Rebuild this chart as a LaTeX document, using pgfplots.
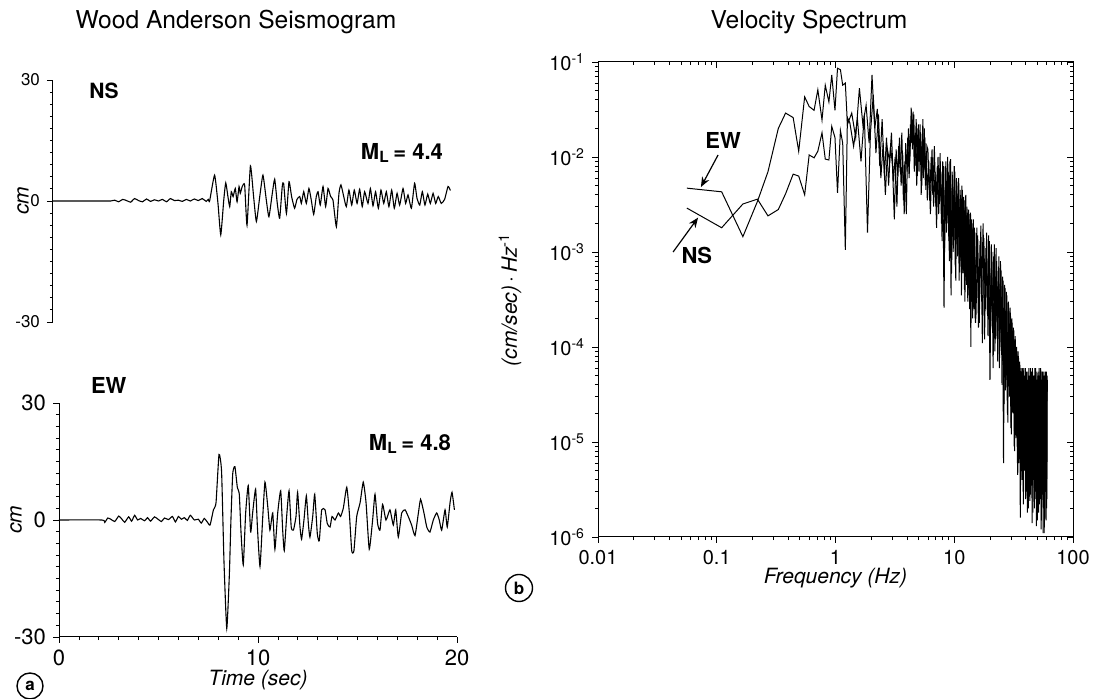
\documentclass[border=0pt]{standalone}
\usepackage{fontspec}
\setmainfont{TeX Gyre Heros}
\usepackage{pgfplots}
\pgfplotsset{compat=1.18}
\usepackage{pgfplotstable}
\usetikzlibrary{arrows.meta}

% ---------- Wood Anderson seismogram, NS component (t in s, cm) ----------
\pgfplotstableread{
t v
0 0
2.5 0
2.9 0
3.1 0.2
3.3 -0.2
3.5 0.4
3.7 0.1
3.9 -0.3
4.1 0.6
4.3 0.1
4.5 -0.2
4.7 0.5
4.9 -0.1
5.1 0.3
5.3 0
5.5 0.4
5.7 -0.2
5.9 0.6
6.1 0.1
6.3 0.2
6.5 -0.1
6.7 0.4
6.9 0
7.1 0.5
7.3 0.1
7.5 0.6
7.7 -0.1
7.8 0.4
7.87 0
8.12 6.4
8.29 -0.6
8.43 -8.4
8.58 0.2
8.68 4.5
8.79 1.1
8.88 -1.4
8.96 2.3
9.05 1.1
9.16 3.1
9.25 -0.2
9.35 3.6
9.41 1.9
9.51 3.6
9.63 4.0
9.75 -6.0
9.92 8.7
10.08 1.1
10.22 -5.1
10.39 1.1
10.55 6.4
10.72 0.2
10.85 -3.9
11.02 1.9
11.14 5.4
11.27 -0.6
11.39 -4.3
11.52 3.6
11.59 4.4
11.73 -3.1
11.86 4.8
11.99 1.1
12.14 -1.8
12.26 0.4
12.40 1.1
12.48 -0.6
12.60 2.3
12.73 -0.6
12.86 3.1
12.98 0.2
13.10 -3.3
13.23 1.1
13.32 2.3
13.43 -1.0
13.57 3.6
13.70 -1.4
13.82 3.1
13.95 1.1
14.07 0.2
14.24 -6.4
14.37 1.9
14.47 4.0
14.61 1.1
14.74 -1.4
14.87 2.7
15.01 -1.0
15.14 2.7
15.28 -0.6
15.41 2.9
15.54 -1.4
15.66 2.3
15.83 -0.6
15.95 3.1
16.08 -1.2
16.21 2.3
16.35 -1.8
16.48 2.7
16.62 -0.6
16.75 2.3
16.88 -1.4
17.02 2.7
17.15 -1.8
17.29 1.9
17.42 -1.0
17.59 3.1
17.72 -0.6
17.84 1.5
18.01 -1.8
18.17 4.4
18.29 0.7
18.43 -1.0
18.56 2.3
18.69 -1.0
18.83 1.7
18.96 -0.6
19.10 1.9
19.23 -0.6
19.36 1.1
19.51 -0.6
19.68 0.4
19.85 3.6
19.97 2.6
}\nsdata

% ---------- Wood Anderson seismogram, EW component ----------
\pgfplotstableread{
t v
0 0
2.15 0
2.3 -0.6
2.45 0.5
2.6 0.2
2.8 -0.4
3.0 1.0
3.15 0.3
3.3 -0.6
3.5 0.8
3.65 -0.3
3.8 1.2
3.95 0
4.1 0.4
4.3 -0.2
4.45 0.6
4.6 -0.3
4.8 0.8
5.0 0.1
5.15 -0.4
5.3 0.5
5.5 0.1
5.7 0.9
5.85 -0.5
6.0 0.9
6.15 0.2
6.3 0.6
6.45 -0.1
6.6 1.2
6.8 0
7.0 0.2
7.15 -0.8
7.3 0.4
7.45 -0.5
7.59 -1.3
7.76 2.6
7.89 4.4
8.04 16.8
8.17 12.4
8.29 -10.6
8.43 -27.8
8.56 -14.1
8.64 0
8.73 11.9
8.84 13.7
8.96 8.4
9.06 6.6
9.15 -3.5
9.26 -11.5
9.38 1.8
9.51 8.8
9.63 -3.1
9.73 1.8
9.88 7.9
9.97 -1.8
10.10 -11.9
10.23 0
10.35 9.7
10.49 3.5
10.60 -2.6
10.74 1.8
10.85 -7.5
10.99 1.8
11.14 7.5
11.24 -2.6
11.32 -7.9
11.44 0.9
11.56 7.5
11.67 -1.8
11.78 -2.6
11.91 0.9
11.99 7.1
12.11 -1.8
12.19 -4.9
12.31 0
12.43 6.2
12.53 -0.9
12.61 -4.4
12.75 0.9
12.85 6.6
12.98 -3.5
13.08 -5.3
13.20 2.6
13.37 2.6
13.48 -0.9
13.62 -1.8
13.72 0.9
13.87 0
14.04 1.8
14.15 0.9
14.29 3.1
14.46 8.4
14.59 1.8
14.71 -7.9
14.82 -7.9
14.96 0.9
15.13 4.4
15.29 9.7
15.43 4.4
15.59 -7.5
15.76 0
15.88 6.6
16.01 -0.9
16.13 -2.6
16.26 4.0
16.43 0
16.63 2.6
16.80 -1.3
16.92 2.6
17.05 -4.4
17.22 1.8
17.39 2.6
17.55 0.9
17.72 -1.3
17.89 -4.0
18.06 1.8
18.17 5.3
18.34 1.8
18.48 -1.8
18.64 -3.1
18.81 0
18.98 1.8
19.11 0
19.23 -2.6
19.40 2.6
19.51 -1.8
19.65 4.4
19.75 7.1
19.87 2.6
}\ewdata

% ---------- Velocity spectrum, EW (f in Hz, (cm/s)/Hz) ----------
\pgfplotstableread{
f v
0.056 4.7e-3
0.11 4.3e-3
0.166 1.45e-3
0.22 3.4e-3
0.27 7.0e-3
0.33 2.0e-2
0.38 2.9e-2
0.44 2.6e-2
0.49 1.15e-2
0.55 4.3e-2
0.60 3.4e-2
0.66 3.1e-2
0.71 5.1e-2
0.77 2.45e-2
0.82 5.7e-2
0.88 3.8e-2
0.93 7.3e-2
0.99 3.1e-2
1.04 8.6e-2
1.10 8.3e-2
1.15 5.7e-2
1.21 6.0e-2
1.26 2.2e-2
1.37 2.9e-2
1.48 1.6e-2
1.59 5.3e-2
1.70 2.2e-2
1.81 3.5e-2
1.92 1.4e-2
2.03 7.3e-2
2.14 2.0e-2
2.25 3.2e-2
2.36 8e-3
2.47 2.5e-2
2.58 6.3e-3
2.69 1.6e-2
2.80 5e-3
2.91 1.3e-2
3.02 8e-3
3.13 2.2e-3
3.24 1.2e-2
3.35 6.3e-3
3.46 1.6e-2
3.57 5e-3
3.68 1.1e-2
3.79 2.5e-3
3.90 1.4e-2
4.01 7e-3
4.12 2e-2
4.23 9e-3
4.34 3.3e-2
4.45 1.2e-2
4.56 2.8e-2
4.67 8e-3
4.78 2.5e-2
4.89 6.3e-3
5.00 2.2e-2
5.11 1e-2
5.22 1.8e-2
5.33 5e-3
5.44 2.5e-2
5.55 7e-3
5.66 1.6e-2
5.77 4.5e-3
5.88 1.3e-2
6.0 1.2e-2
6.2 3.5e-3
6.4 1.0e-2
6.6 4e-3
6.8 1.3e-2
7.0 3e-3
7.2 8e-3
7.4 2.5e-3
7.6 1.1e-2
7.8 2e-3
8.0 9e-3
8.2 2.6e-4
8.4 8e-3
8.6 1.6e-3
8.8 1e-2
9.0 1.3e-3
9.2 9e-3
9.4 3.5e-4
9.6 7e-3
9.8 1.0e-3
10.0 8e-3
10.2 7e-4
10.4 6e-3
10.6 1.2e-3
10.8 5.5e-3
11.0 5e-4
11.2 4.5e-3
11.4 8e-4
11.6 5e-3
11.8 6e-4
12.0 3.8e-3
12.2 4e-4
12.4 3.5e-3
12.6 5e-4
12.8 3e-3
13.0 3e-4
13.2 2.8e-3
13.4 4e-4
13.6 2.5e-3
13.8 1e-4
14.0 2.2e-3
14.2 3e-4
14.4 2e-3
14.6 2.5e-4
14.8 1.8e-3
15.0 2e-4
15.5 1.8e-3
16.0 1.6e-4
16.5 1.3e-3
17.0 3e-4
17.5 2e-3
18.0 1.2e-4
18.5 1.1e-3
19.0 2.2e-4
19.5 1.5e-3
20.0 4.5e-5
20.5 1.2e-3
21.0 1.5e-4
21.5 9e-4
22.0 9e-5
22.5 1.1e-3
23.0 1.3e-4
23.5 7e-4
24.0 6e-5
24.5 8e-4
25.0 9e-5
25.5 5.5e-4
26.0 6e-6
26.5 4.5e-4
27.0 3.5e-5
27.5 3.8e-4
28.0 2e-5
28.5 3e-4
29.0 4e-5
29.5 2.6e-4
30.0 1.4e-5
30.5 2e-4
31.0 2.5e-5
31.5 1.6e-4
32.0 9e-6
32.5 1.3e-4
33.0 1.5e-5
33.5 1e-4
34.0 6e-6
34.5 9e-5
35.0 1e-5
35.5 7e-5
36.0 1.6e-6
36.5 6e-5
37.0 5e-6
37.5 5.5e-5
38.0 3e-6
38.5 6e-5
39.0 7e-6
39.5 5e-5
40.0 2.5e-6
40.5 5.5e-5
41.0 4e-6
41.5 4e-5
42.0 2e-6
42.5 6e-5
43.0 6e-6
43.5 4.5e-5
44.0 2.8e-6
44.5 5.5e-5
45.0 3.5e-6
45.5 6e-5
46.0 1.8e-6
46.5 4e-5
47.0 5e-6
47.5 5e-5
48.0 2.5e-6
48.5 6e-5
49.0 3e-6
49.5 4.5e-5
50.0 1.5e-6
50.5 5e-5
51.0 4e-6
51.5 5.5e-5
52.0 2.2e-6
52.5 4e-5
53.0 3.2e-6
53.5 6e-5
54.0 1.2e-6
54.5 4.5e-5
55.0 2.8e-6
55.5 5.5e-5
56.0 1.1e-6
56.5 5e-5
57.0 3.5e-6
57.5 4e-5
58.0 1.6e-6
58.5 5.5e-5
59.0 3e-6
59.5 4.5e-5
60.0 2e-6
60.5 5e-5
}\ewspec

% ---------- Velocity spectrum, NS ----------
\pgfplotstableread{
f v
0.056 2.9e-3
0.11 1.8e-3
0.166 3.2e-3
0.22 3.6e-3
0.27 2.4e-3
0.33 2.8e-3
0.38 4.1e-3
0.44 6.6e-3
0.49 6.3e-3
0.55 4.0e-3
0.60 1.05e-2
0.66 9.8e-3
0.71 1.15e-2
0.77 1.8e-2
0.82 9.5e-3
0.88 9.3e-3
0.93 2.1e-2
0.99 1.6e-2
1.04 4.2e-3
1.10 1.9e-2
1.15 1.4e-2
1.21 1.05e-3
1.26 2.6e-2
1.32 2.3e-2
1.42 1.3e-2
1.53 2.5e-2
1.64 9e-3
1.75 2.8e-2
1.86 1.6e-3
1.97 1.8e-2
2.08 4.5e-2
2.19 1.1e-2
2.30 2.8e-2
2.41 6e-3
2.52 1.4e-2
2.63 4e-3
2.74 1.2e-2
2.85 9e-3
2.96 1.8e-2
3.07 5.5e-3
3.18 1e-2
3.29 3e-3
3.40 1.3e-2
3.51 7e-3
3.62 1.8e-2
3.73 3.5e-3
3.84 9e-3
3.95 2.5e-3
4.06 1.6e-2
4.17 6e-3
4.28 2.2e-2
4.39 1.4e-2
4.50 3e-2
4.61 7e-3
4.72 1.8e-2
4.83 5e-3
4.94 2e-2
5.05 7e-3
5.16 2.2e-2
5.27 4e-3
5.38 1.5e-2
5.49 6e-3
5.60 2e-2
5.71 5e-3
5.82 1.1e-2
5.93 3.5e-3
6.1 9e-3
6.3 2.5e-3
6.5 1.2e-2
6.7 3e-3
6.9 7e-3
7.1 1.8e-3
7.3 1e-2
7.5 3.2e-3
7.7 7e-3
7.9 1.3e-3
8.1 8e-3
8.3 1.1e-3
8.5 9e-3
8.7 2e-3
8.9 7e-3
9.1 8e-4
9.3 9.5e-3
9.5 6e-4
9.7 6.5e-3
9.9 1.3e-3
10.1 7e-3
10.3 5e-4
10.5 5e-3
10.7 9e-4
10.9 6e-3
11.1 7e-4
11.3 4e-3
11.5 3.5e-4
11.7 4.5e-3
11.9 6e-4
12.1 3.5e-3
12.3 3e-4
12.5 4e-3
12.7 4.5e-4
12.9 2.6e-3
13.1 3.5e-4
13.3 2.2e-3
13.5 2.5e-4
13.7 2.6e-3
13.9 3e-4
14.1 1.8e-3
14.3 2e-4
14.5 2.2e-3
14.7 2.8e-4
14.9 1.6e-3
15.1 1.8e-4
15.25 2.2e-4
15.75 1.5e-3
16.25 1.8e-4
16.75 1.9e-3
17.25 1.1e-4
17.75 1.4e-3
18.25 2.5e-4
18.75 1.6e-3
19.25 1.3e-4
19.75 1.3e-3
20.25 1.6e-4
20.75 1e-3
21.25 6e-5
21.75 1.2e-3
22.25 1.2e-4
22.75 8e-4
23.25 7e-5
23.75 9e-4
24.25 1e-4
24.75 6.5e-4
25.25 4e-5
25.75 5e-4
26.25 2.5e-5
26.75 4.2e-4
27.25 4.5e-5
27.75 3.5e-4
28.25 1.6e-5
28.75 2.8e-4
29.25 3e-5
29.75 2.3e-4
30.25 1.2e-5
30.75 1.8e-4
31.25 2e-5
31.75 1.5e-4
32.25 8e-6
32.75 1.2e-4
33.25 1.1e-5
33.75 9e-5
34.25 4.5e-6
34.75 8e-5
35.25 6e-6
35.75 6.5e-5
36.25 3.5e-6
36.75 5.5e-5
37.25 4e-6
37.75 6e-5
38.25 2.2e-6
38.75 4.5e-5
39.25 5e-6
39.75 6e-5
40.25 3e-6
40.75 4.5e-5
41.25 1.8e-6
41.75 5.5e-5
42.25 4.5e-6
42.75 5e-5
43.25 2.4e-6
43.75 6e-5
44.25 3.5e-6
44.75 4e-5
45.25 1.4e-6
45.75 5.5e-5
46.25 4e-6
46.75 5e-5
47.25 2e-6
47.75 6e-5
48.25 3.8e-6
48.75 4.5e-5
49.25 1.3e-6
49.75 5.5e-5
50.25 3e-6
50.75 4e-5
51.25 1.8e-6
51.75 6e-5
52.25 4e-6
52.75 5e-5
53.25 2.5e-6
53.75 4.5e-5
54.25 1.5e-6
54.75 5.5e-5
55.25 3.5e-6
55.75 4.5e-5
56.25 2e-6
56.75 5.5e-5
57.25 1.1e-6
57.75 5e-5
58.25 3e-6
58.75 4e-5
59.25 1.5e-6
59.75 5.5e-5
60.25 2.5e-6
60.75 4.5e-5
}\nsspec

\pgfplotsset{
  seis/.style={
    scale only axis, width=199pt, clip=false, anchor=south west,
    xmin=0, xmax=20, ymin=-30, ymax=30,
    ytick={-30,0,30}, yticklabels={-30,0,30}, minor y tick num=9,
    tick align=outside, major tick length=3pt, minor tick length=1.6pt,
    tick style={black, line width=0.4pt},
    axis line style={line width=0.5pt},
    ylabel={\itshape cm},
    label style={font=\fontsize{10.5}{12}\selectfont},
  },
  spec/.style={
    scale only axis, width=237.5pt, height=237.5pt, clip=false, anchor=south west,
    xmin=0.01, xmax=100, ymin=1e-6, ymax=1e-1,
    xtick={0.01,0.1,1,10,100},
    ytick={1e-6,1e-5,1e-4,1e-3,1e-2,1e-1},
    minor xtick={0.02,0.03,0.04,0.05,0.06,0.07,0.08,0.09,0.2,0.3,0.4,0.5,0.6,0.7,0.8,0.9,2,3,4,5,6,7,8,9,20,30,40,50,60,70,80,90},
    minor ytick={2e-6,3e-6,4e-6,5e-6,6e-6,7e-6,8e-6,9e-6,2e-5,3e-5,4e-5,5e-5,6e-5,7e-5,8e-5,9e-5,2e-4,3e-4,4e-4,5e-4,6e-4,7e-4,8e-4,9e-4,2e-3,3e-3,4e-3,5e-3,6e-3,7e-3,8e-3,9e-3,2e-2,3e-2,4e-2,5e-2,6e-2,7e-2,8e-2,9e-2},
    major tick length=3pt, minor tick length=1.6pt,
    tick style={black, line width=0.4pt},
    axis line style={line width=0.5pt},
    tick label style={font=\fontsize{10}{12}\selectfont},
    label style={font=\fontsize{10.5}{12}\selectfont},
  },
}

\begin{document}
\begin{tikzpicture}
\path[use as bounding box] (0pt,0pt) rectangle (549.5pt,349.5pt);

% titles
\node[font=\fontsize{12.3}{14}\selectfont] at (118pt,338.5pt) {Wood Anderson Seismogram};
\node[font=\fontsize{12.3}{14}\selectfont] at (404.5pt,338.5pt) {Velocity Spectrum};

% NS seismogram
\begin{axis}[seis, at={(26.5pt,188.5pt)}, height=121pt,
  axis y line*=left, hide x axis,
  tick label style={font=\fontsize{8.5}{10}\selectfont},
  ylabel style={at={(axis description cs:0,0.5)}, anchor=center, rotate=0, yshift=15pt}]
  \addplot[black, line width=0.55pt, smooth, tension=0.3] table[x=t,y=v] {\nsdata};
  \node[font=\bfseries\fontsize{10.5}{12}\selectfont] at (axis cs:2.56,27.3) {NS};
  \node[anchor=east, font=\bfseries\fontsize{11}{13}\selectfont] at (axis cs:19.95,11.9) {M\textsubscript{L}\,= 4.4};
\end{axis}

% EW seismogram
\begin{axis}[seis, at={(29.5pt,31pt)}, height=117pt,
  axis y line*=left, axis x line*=bottom,
  tick label style={font=\fontsize{11}{13}\selectfont},
  xtick={0,10,20}, xticklabels={0,10,20}, minor x tick num=9,
  xlabel={\itshape Time (sec)},
  xlabel style={at={(axis description cs:0.5,0)}, anchor=center, yshift=-21.5pt},
  ylabel style={at={(axis description cs:0,0.5)}, anchor=center, yshift=21.5pt}]
  \addplot[black, line width=0.55pt, smooth, tension=0.3] table[x=t,y=v] {\ewdata};
  \node[font=\bfseries\fontsize{11}{13}\selectfont] at (axis cs:2.5,34.5) {EW};
  \node[anchor=east, font=\bfseries\fontsize{11}{13}\selectfont] at (axis cs:20.05,19.5) {M\textsubscript{L}\,= 4.8};
\end{axis}

% velocity spectrum
\begin{loglogaxis}[spec, at={(299pt,81pt)},
  tick pos=left, tick align=outside,
  xticklabels={0.01,0.1,1,10,100},
  yticklabels={10\textsuperscript{-6},10\textsuperscript{-5},10\textsuperscript{-4},10\textsuperscript{-3},10\textsuperscript{-2},10\textsuperscript{-1}},
  xlabel={\itshape Frequency (Hz)},
  xlabel style={at={(axis description cs:0.5,0)}, anchor=center, yshift=-20.5pt},
  ylabel={{\itshape (cm/sec)}\,·\,{\itshape Hz}\textsuperscript{-1}},
  ylabel style={at={(axis description cs:0,0.5)}, anchor=center, yshift=44pt}]
  \addplot[black, line width=0.5pt] table[x=f,y=v] {\ewspec};
  \addplot[black, line width=0.5pt] table[x=f,y=v] {\nsspec};
  \node[font=\bfseries\fontsize{11}{13}\selectfont] at (axis cs:0.113,0.0151) {EW};
  \draw[-{Stealth[length=5pt,width=4pt]}, line width=0.6pt] (axis cs:0.1026,0.0105) -- (axis cs:0.0736,4.83e-3);
  \node[font=\bfseries\fontsize{11}{13}\selectfont] at (axis cs:0.068,9.3e-4) {NS};
  \draw[-{Stealth[length=5pt,width=4pt]}, line width=0.6pt] (axis cs:0.0429,1e-3) -- (axis cs:0.0696,2.3e-3);
\end{loglogaxis}
\begin{loglogaxis}[spec, at={(299pt,81pt)},
  tick pos=right, tick align=inside,
  xticklabels={}, yticklabels={}]
  \addplot[draw=none] coordinates {(1,1e-3)};
\end{loglogaxis}

% panel tags
\node[draw, circle, line width=0.7pt, minimum size=13pt, inner sep=0pt, font=\bfseries\fontsize{8.5}{10}\selectfont] at (15pt,6.5pt) {a};
\node[draw, circle, line width=0.7pt, minimum size=13.5pt, inner sep=0pt, font=\bfseries\fontsize{8.5}{10}\selectfont] at (259.5pt,55.5pt) {b};
\end{tikzpicture}
\end{document}
